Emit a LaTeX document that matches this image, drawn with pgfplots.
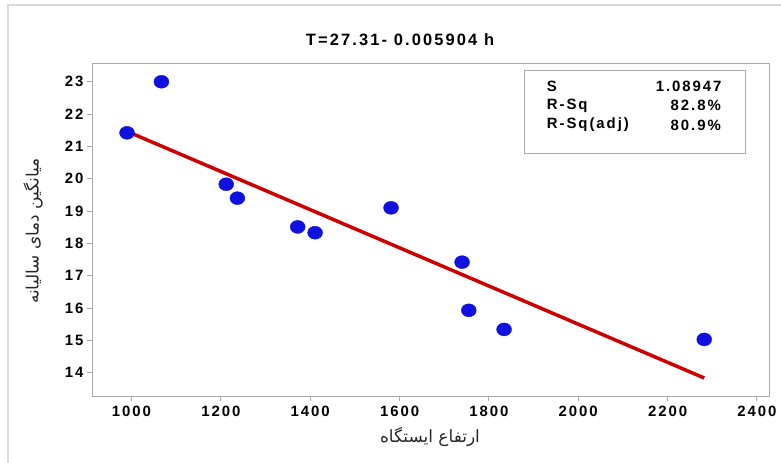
\documentclass[border=0pt]{standalone}
\usepackage{fontspec}
\setmainfont{Liberation Sans}[LetterSpace=13]
\newfontfamily\arabicfont[Script=Arabic]{DejaVu Sans}
\TeXXeTstate=1
\usepackage{pgfplots}
\pgfplotsset{compat=1.18}
\definecolor{axgray}{RGB}{170,170,170}
\definecolor{ptblue}{RGB}{16,16,224}
\definecolor{fitred}{RGB}{204,0,0}
\begin{document}
\begin{tikzpicture}
\path[use as bounding box] (0bp,0bp) rectangle (781bp,-463bp);
\draw[black!15, line width=1.2bp] (8bp,-463bp) -- (8bp,-5bp) -- (781bp,-5bp);
\begin{axis}[at={(92bp,-63bp)}, anchor=north west, scale only axis,
 width=677bp, height=333bp,
 xmin=911.6, xmax=2427, ymin=13.28, ymax=23.58,
 axis line style={axgray, line width=1bp},
 xtick={1000,1200,...,2400}, ytick={14,15,...,23},
 tick align=outside, tick pos=left, major tick length=5bp,
 tick style={axgray, line width=1bp},
 /pgf/number format/assume math mode=true,
 /pgf/number format/1000 sep={},
 xticklabel style={yshift=-2bp},
 ticklabel style={font=\fontsize{15}{18}\selectfont\bfseries, text=black},
 clip=false]
\addplot[fitred, line width=3.5bp] coordinates {(990,21.465) (2282,13.837)};
\addplot[only marks, mark=*, mark size=6.5bp, mark options={xscale=1.15, draw=ptblue, fill=ptblue}] coordinates {
(990,21.42) (1067,23.00) (1212,19.83) (1237,19.40) (1372,18.51) (1411,18.33)
(1581,19.10) (1740,17.42) (1755,15.93) (1834,15.34) (2282,15.03)};
\end{axis}
\node[font=\fontsize{16.5}{20}\selectfont\bfseries, text=black] at (400bp,-40bp) {T=27.31- 0.005904 h};
\draw[axgray, line width=1bp] (524.3bp,-70.7bp) rectangle (745.7bp,-153.3bp);
\begin{scope}[every node/.style={font=\fontsize{15}{17}\selectfont\bfseries, text=black, inner sep=0pt}]
\node[anchor=west] at (546.7bp,-86.7bp) {S};
\node[anchor=west] at (546.7bp,-105.5bp) {R-Sq};
\node[anchor=west] at (546.7bp,-125bp) {R-Sq(adj)};
\node[anchor=east] at (721.7bp,-86.7bp) {1.08947};
\node[anchor=east] at (721bp,-105.5bp) {82.8\%};
\node[anchor=east] at (721bp,-125bp) {80.9\%};
\end{scope}
\node[font=\arabicfont\fontsize{17}{20}\selectfont, rotate=90, text=black!85] at (33bp,-231bp) {\beginR میانگین دمای سالیانه\endR};
\node[font=\arabicfont\fontsize{17}{20}\selectfont, text=black!85] at (430bp,-437bp) {\beginR ارتفاع ایستگاه\endR};
\end{tikzpicture}
\end{document}
